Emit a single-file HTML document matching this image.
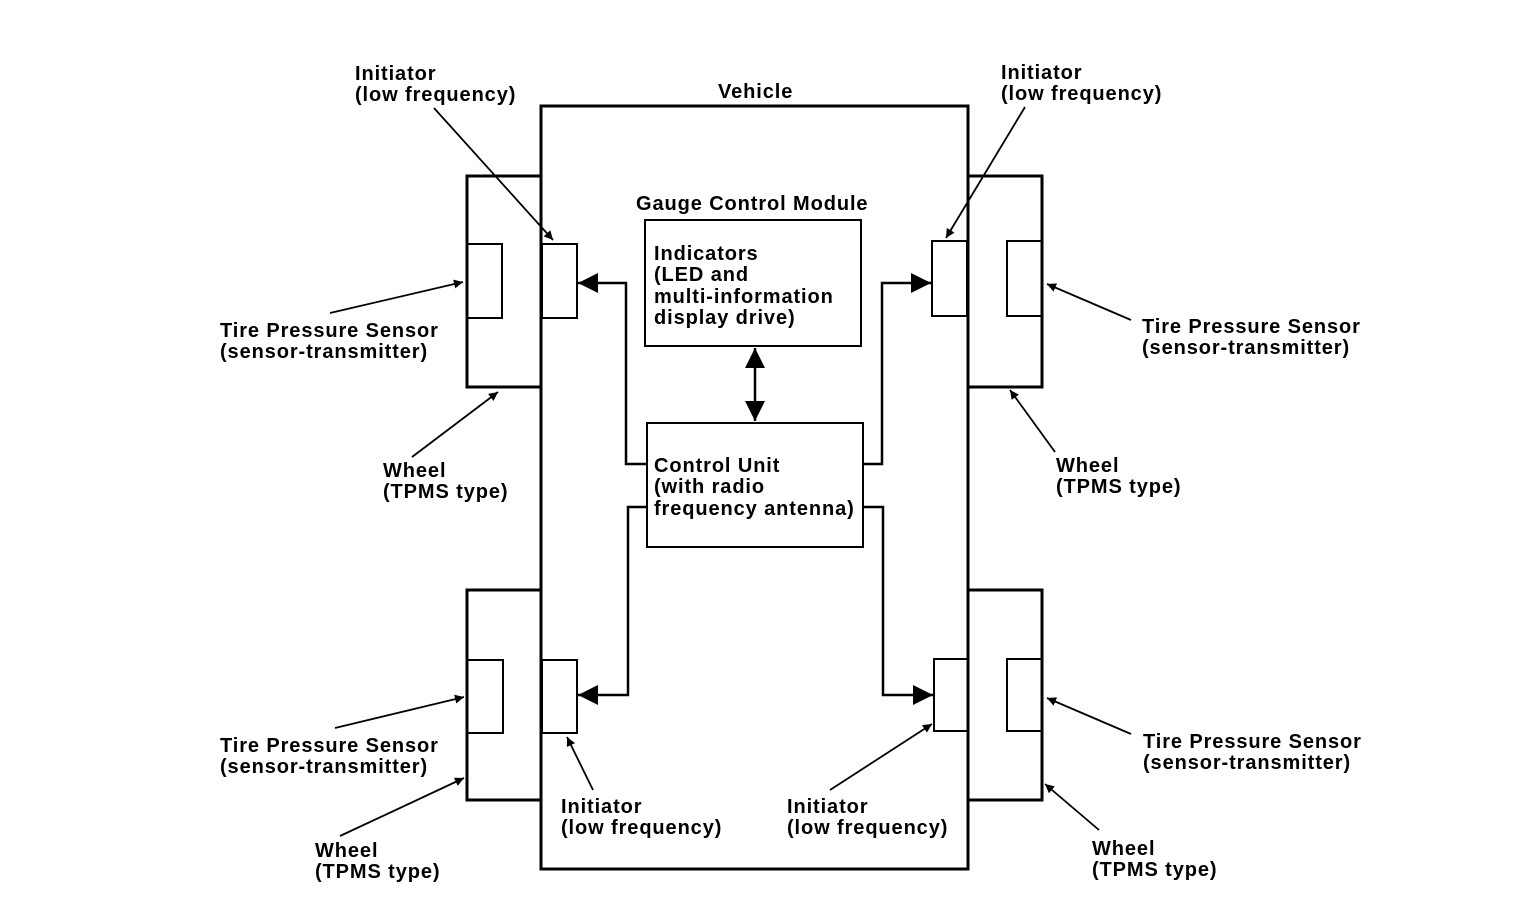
<!DOCTYPE html>
<html><head><meta charset="utf-8"><style>
html,body{margin:0;padding:0;background:#fff;}
svg{display:block;}
text{font-family:"Liberation Sans",Arial,sans-serif;font-weight:bold;font-size:20px;letter-spacing:0.9px;fill:#000;}
</style></head><body>
<svg width="1536" height="924" viewBox="0 0 1536 924" xmlns="http://www.w3.org/2000/svg">
<defs>
<marker id="a" viewBox="0 0 10 10" refX="10" refY="5" markerWidth="16" markerHeight="9" orient="auto" markerUnits="userSpaceOnUse"><path d="M0,0 L10,5 L0,10 z" fill="#000"/></marker>
<marker id="b" viewBox="0 0 10 10" refX="10" refY="5" markerWidth="28" markerHeight="20" orient="auto-start-reverse" markerUnits="userSpaceOnUse"><path d="M0,0 L10,5 L0,10 z" fill="#000"/></marker>
</defs>
<g fill="none" stroke="#000" stroke-width="3">
<rect x="541" y="106" width="427" height="763"/>
<polyline points="541,176 467,176 467,387 541,387"/>
<polyline points="541,590 467,590 467,800 541,800"/>
<polyline points="968,176 1042,176 1042,387 968,387"/>
<polyline points="968,590 1042,590 1042,800 968,800"/>
</g>
<g fill="none" stroke="#000" stroke-width="2">
<polyline points="467,244 502,244 502,318 467,318"/>
<polyline points="467,660 503,660 503,733 467,733"/>
<polyline points="1042,241 1007,241 1007,316 1042,316"/>
<polyline points="1042,659 1007,659 1007,731 1042,731"/>
<rect x="542" y="244" width="35" height="74"/>
<rect x="542" y="660" width="35" height="73"/>
<rect x="932" y="241" width="35" height="75"/>
<rect x="934" y="659" width="34" height="72"/>
<rect x="645" y="220" width="216" height="126"/>
<rect x="647" y="423" width="216" height="124"/>
</g>
<g fill="none" stroke="#000" stroke-width="2.5">
<polyline points="647,464 626,464 626,283 578,283" marker-end="url(#b)"/>
<polyline points="647,507 628,507 628,695 578,695" marker-end="url(#b)"/>
<polyline points="863,464 882,464 882,283 931,283" marker-end="url(#b)"/>
<polyline points="863,507 883,507 883,695 933,695" marker-end="url(#b)"/>
<line x1="755" y1="348" x2="755" y2="421" marker-start="url(#b)" marker-end="url(#b)"/>
</g>
<g fill="none" stroke="#000" stroke-width="1.8">
<line x1="434" y1="108" x2="553" y2="240" marker-end="url(#a)"/>
<line x1="330" y1="313" x2="463" y2="282" marker-end="url(#a)"/>
<line x1="412" y1="457" x2="498" y2="392" marker-end="url(#a)"/>
<line x1="1025" y1="107" x2="946" y2="238" marker-end="url(#a)"/>
<line x1="1131" y1="320" x2="1047" y2="284" marker-end="url(#a)"/>
<line x1="1055" y1="452" x2="1010" y2="390" marker-end="url(#a)"/>
<line x1="335" y1="728" x2="464" y2="697" marker-end="url(#a)"/>
<line x1="340" y1="836" x2="464" y2="778" marker-end="url(#a)"/>
<line x1="593" y1="790" x2="567" y2="737" marker-end="url(#a)"/>
<line x1="830" y1="790" x2="932" y2="724" marker-end="url(#a)"/>
<line x1="1131" y1="734" x2="1047" y2="698" marker-end="url(#a)"/>
<line x1="1099" y1="830" x2="1045" y2="784" marker-end="url(#a)"/>
</g>
<text x="718" y="98">Vehicle</text>
<text x="636" y="210">Gauge Control Module</text>
<text x="654" y="260">Indicators</text>
<text x="654" y="281">(LED and</text>
<text x="654" y="303">multi-information</text>
<text x="654" y="324">display drive)</text>
<text x="654" y="472">Control Unit</text>
<text x="654" y="493">(with radio</text>
<text x="654" y="515">frequency antenna)</text>
<text x="355" y="80">Initiator</text>
<text x="355" y="101">(low frequency)</text>
<text x="1001" y="79">Initiator</text>
<text x="1001" y="100">(low frequency)</text>
<text x="220" y="337">Tire Pressure Sensor</text>
<text x="220" y="358">(sensor-transmitter)</text>
<text x="1142" y="333">Tire Pressure Sensor</text>
<text x="1142" y="354">(sensor-transmitter)</text>
<text x="383" y="477">Wheel</text>
<text x="383" y="498">(TPMS type)</text>
<text x="1056" y="472">Wheel</text>
<text x="1056" y="493">(TPMS type)</text>
<text x="220" y="752">Tire Pressure Sensor</text>
<text x="220" y="773">(sensor-transmitter)</text>
<text x="1143" y="748">Tire Pressure Sensor</text>
<text x="1143" y="769">(sensor-transmitter)</text>
<text x="315" y="857">Wheel</text>
<text x="315" y="878">(TPMS type)</text>
<text x="1092" y="855">Wheel</text>
<text x="1092" y="876">(TPMS type)</text>
<text x="561" y="813">Initiator</text>
<text x="561" y="834">(low frequency)</text>
<text x="787" y="813">Initiator</text>
<text x="787" y="834">(low frequency)</text>
</svg>
</body></html>
